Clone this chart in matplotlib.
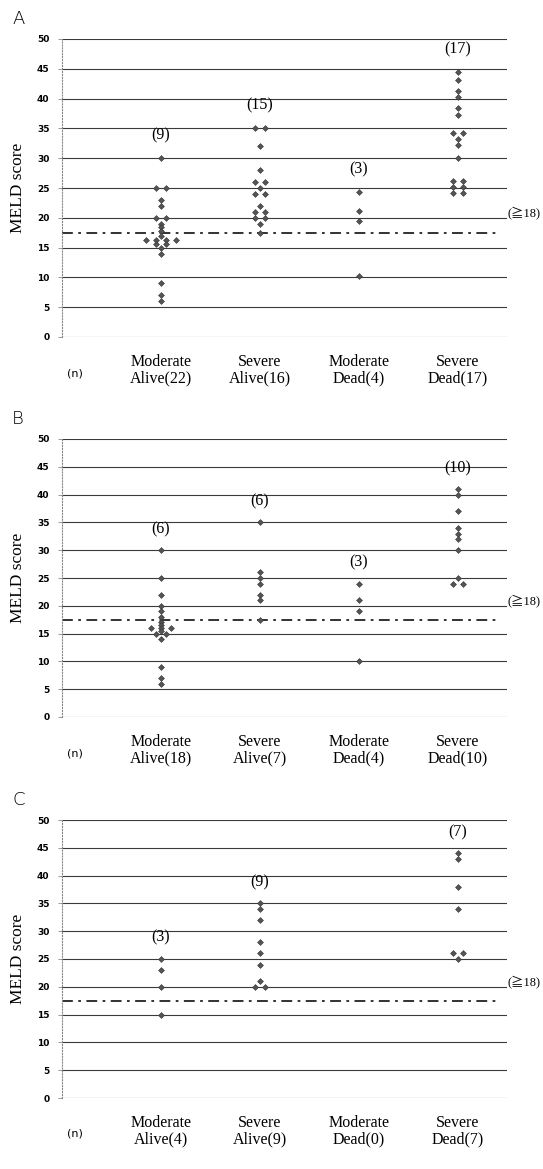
import numpy as np
import matplotlib
matplotlib.use('Agg')
import matplotlib.pyplot as plt

# group labels and n per panel
group_names = ['Moderate\nAlive', 'Severe\nAlive', 'Moderate\nDead', 'Severe\nDead']
panel_letters = ['A', 'B', 'C']

n_A = [22, 16, 4, 17]
n_B = [18, 7, 4, 10]
n_C = [4, 9, 0, 7]

# number of patients with MELD >= 18 (shown above each group)
ge18_A = [9, 15, 3, 17]
ge18_B = [6, 6, 3, 10]
ge18_C = [3, 9, 0, 7]

# MELD scores
A_mod_alive = [30, 25, 25, 23, 22, 20, 20, 19, 18.5, 17.8, 17,
               16.3, 16.3, 16.3, 16.3, 15.6, 15.6, 15, 14, 9, 7, 6]
A_sev_alive = [35, 35, 32, 28, 26, 26, 25, 24, 24, 22, 21, 21, 20, 20, 19, 17.5]
A_mod_dead = [24.3, 21.2, 19.5, 10.2]
A_sev_dead = [44.5, 43.2, 41.3, 40.2, 38.4, 37.2, 34.2, 34.2, 33.2, 32.2, 30,
              26.2, 26.2, 25.2, 25.2, 24.1, 24.1]

B_mod_alive = [30, 25, 22, 20, 19, 18, 17, 16.5, 16, 16, 16, 15.5, 15, 15, 14, 9, 7, 6]
B_sev_alive = [35, 26, 25, 24, 22, 21, 17.5]
B_mod_dead = [24, 21, 19, 10]
B_sev_dead = [41, 40, 37, 34, 33, 32, 30, 25, 24, 24]

C_mod_alive = [25, 23, 20, 15]
C_sev_alive = [35, 34, 32, 28, 26, 24, 21, 20, 20]
C_mod_dead = []
C_sev_dead = [44, 43, 38, 34, 26, 26, 25]

cutoff = 17.5

panels = [
    ([A_mod_alive, A_sev_alive, A_mod_dead, A_sev_dead], n_A, ge18_A),
    ([B_mod_alive, B_sev_alive, B_mod_dead, B_sev_dead], n_B, ge18_B),
    ([C_mod_alive, C_sev_alive, C_mod_dead, C_sev_dead], n_C, ge18_C),
]

W, H = 543, 1169
fig = plt.figure(figsize=(W / 100, H / 100), dpi=100)

serif = ['Liberation Serif', 'Noto Sans CJK JP', 'DejaVu Serif']

# pixel position of the 50 and 0 gridlines of each panel
y_top_px = [39, 439, 820]
y_bot_px = [337, 717, 1098]
x_left_px, x_right_px = 62, 507


def spread(values, step=0.1):
    # put equal values side by side
    xs = []
    seen = {}
    for v in values:
        k = values.count(v)
        i = seen.get(v, 0)
        seen[v] = i + 1
        xs.append((i - (k - 1) / 2) * step)
    return np.array(xs)


for p in range(3):
    data, n, ge18 = panels[p]
    top, bot = y_top_px[p], y_bot_px[p]
    ax = fig.add_axes([x_left_px / W, 1 - bot / H,
                       (x_right_px - x_left_px) / W, (bot - top) / H])
    ax.set_xlim(0, 4.5)
    ax.set_ylim(0, 50)

    for y in range(0, 51, 5):
        ax.axhline(y, color='#3a3a3a', linewidth=0.8, zorder=1)
    ax.plot([0, 4.4], [cutoff, cutoff], color='#222222', linewidth=1.3,
            linestyle=(0, (6, 3, 1.5, 3)), zorder=2)

    for i, vals in enumerate(data):
        if len(vals) == 0:
            continue
        xs = i + 1 + spread(vals)
        ax.scatter(xs, vals, marker='D', s=9, color='#555555',
                   edgecolors='#333333', linewidths=0.4, zorder=3)
        ax.text(i + 1, max(vals) + 3.8, '(%d)' % ge18[i], ha='center',
                va='center', fontsize=11.5, family=serif)

    for spine in ['top', 'right', 'bottom']:
        ax.spines[spine].set_visible(False)
    ax.spines['left'].set_linestyle(':')
    ax.spines['left'].set_color('#888888')
    ax.spines['left'].set_linewidth(0.8)

    ax.set_yticks(range(0, 51, 5))
    ax.tick_params(axis='y', length=3, width=0.6, color='#888888', pad=6,
                   labelsize=6.5)
    for lab in ax.get_yticklabels():
        lab.set_fontweight('bold')
    ax.set_xticks([])

    ax.set_ylabel('MELD score', fontsize=12.5, family=serif, labelpad=8)

    # group labels under the axis
    for i in range(4):
        name = group_names[i].split('\n')
        ax.annotate(name[0] + '\n' + name[1] + '(%d)' % n[i],
                    xy=(i + 1, 0), xycoords=('data', 'axes fraction'),
                    xytext=(0, -17), textcoords='offset pixels',
                    ha='center', va='top', fontsize=11.5, family=serif,
                    linespacing=1.05)
    ax.annotate('(n)', xy=(0.13, 0), xycoords=('data', 'axes fraction'),
                xytext=(0, -36), textcoords='offset pixels',
                ha='center', va='center', fontsize=8)

    ax.annotate('(≧18)', xy=(4.5, cutoff + 3.4), xycoords='data',
                ha='left', va='center', fontsize=9, family=serif,
                annotation_clip=False)

    fig.text(12 / W, 1 - (top - 20) / H, panel_letters[p], fontsize=13,
             ha='left', va='center', fontweight='light')

plt.savefig('out.png', dpi=100)
